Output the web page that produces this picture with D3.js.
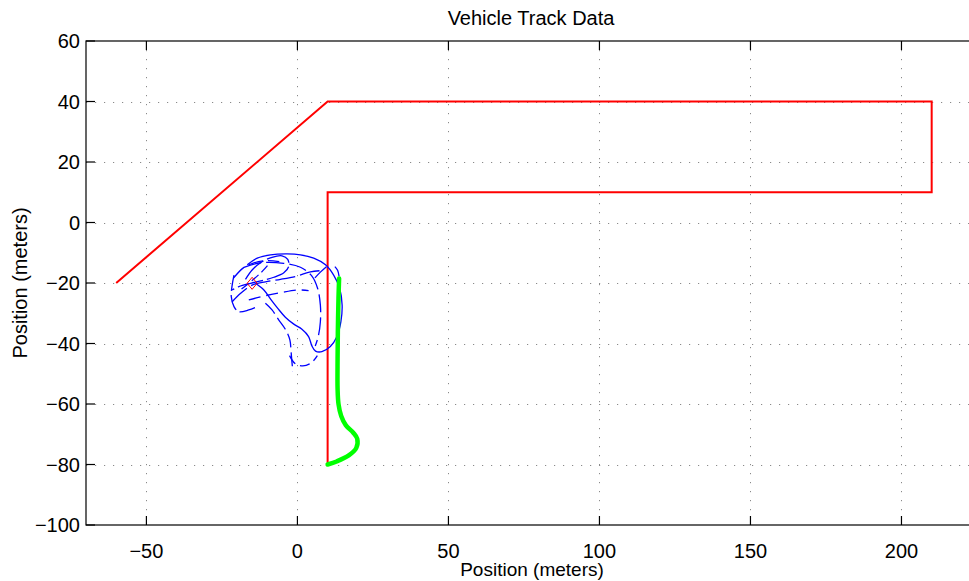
<!DOCTYPE html>
<html>
<head>
<meta charset="utf-8">
<script src="https://cdn.jsdelivr.net/npm/d3@7"></script>
<style>
  html, body { margin: 0; padding: 0; background: #fff; }
  svg { display: block; font-family: "Liberation Sans", Arial, Helvetica, sans-serif; }
</style>
</head>
<body>
<svg id="chart" width="969" height="581"></svg>
<script>
// Planned route (red), driven path (green), sensor tracks (blue), in metres.
const plannedRoute = [[-60, -20], [10, 40], [210, 40], [210, 10], [10, 10], [10, -80]];

const vehiclePath = [
  [13.8, -18.5], [13.6, -25], [13.4, -35], [13.3, -45], [13.3, -55], [13.6, -60],
  [14.5, -64], [16, -67], [18.5, -69.5], [19.8, -71.5], [19.5, -74.5], [17, -77],
  [13, -79], [10, -80]
];

const trackOuter = [
  [-16.6, -14.0], [-13.3, -11.8], [-8.9, -10.7], [-3.4, -10.4], [1.0, -10.7],
  [5.4, -11.8], [9.3, -14.0], [12.0, -17.4], [14.0, -21.8], [14.8, -27.3],
  [14.4, -32.8], [13.1, -37.7], [10.9, -41.0], [8.1, -42.7], [6.0, -42.5],
  [4.8, -40.8], [3.7, -37.7], [1.5, -35.3], [-1.2, -33.6], [-4.0, -31.3],
  [-6.5, -28.4], [-8.7, -25.6], [-11.1, -22.3], [-13.9, -20.1]
];

const trackInner = [
  [-17.7, -14.8], [-12.2, -13.3], [-4.5, -13.5], [1.0, -14.8], [4.8, -17.7],
  [6.7, -21.8], [7.6, -27.3], [7.6, -32.8], [6.9, -37.7], [5.9, -40.8]
];

const trackLoop = [
  [-17.2, -18.8], [-15.0, -15.7], [-12.2, -13.3], [-8.4, -11.5], [-5.1, -11.0],
  [-3.2, -12.2], [-2.9, -14.6], [-4.5, -16.6], [-7.8, -18.1], [-11.7, -19.2],
  [-15.5, -20.1], [-19.4, -21.2], [-21.6, -22.3]
];

const trackCross = [
  [-21.6, -26.2], [-18.8, -23.4], [-15.0, -20.7], [-10.6, -19.6], [-5.6, -18.8],
  [-0.1, -17.7], [4.3, -16.3], [8.1, -15.9]
];

const trackMiddle = [
  [-16.1, -25.6], [-11.1, -24.3], [-5.6, -23.2], [-0.1, -22.3], [3.7, -22.5]
];

const trackLeft = [
  [-21.0, -17.4], [-21.6, -20.7], [-21.9, -24.5], [-21.0, -27.8], [-19.4, -29.5],
  [-16.1, -28.9], [-13.3, -27.8]
];

const trackLower = [
  [-10.6, -26.7], [-8.4, -28.9], [-6.2, -32.2], [-4.0, -35.3], [-2.5, -38.8],
  [-2.1, -42.7], [-1.8, -46.3], [-1.5, -49.3]
];

const trackBottom = [
  [-2.6, -44.0], [-0.8, -46.6], [1.8, -47.4], [4.6, -46.4], [6.6, -44.0]
];

const trackUpperLeft = [
  [-21.1, -18.3], [-17.9, -15.0], [-14.6, -13.4], [-10.0, -12.6], [-6.0, -12.9]
];

const trackDiag = [
  [-18.5, -22.0], [-14.8, -19.0], [-11.5, -16.0], [-9.0, -13.2]
];

const trackShortA = [[5.8, -18.3], [7.6, -16.4], [9.6, -14.6]];
const trackShortB = [[12.4, -14.6], [13.3, -15.8], [13.8, -17.8]];

const blueTracks = [
  { pts: trackOuter, dash: null },
  { pts: trackInner, dash: "18,5" },
  { pts: trackLoop, dash: "26,4" },
  { pts: trackCross, dash: "20,5" },
  { pts: trackMiddle, dash: "12,6" },
  { pts: trackLeft, dash: "16,4" },
  { pts: trackLower, dash: "14,5" },
  { pts: trackBottom, dash: "10,5" },
  { pts: trackUpperLeft, dash: "15,5" },
  { pts: trackDiag, dash: "9,4" },
  { pts: trackShortA, dash: null },
  { pts: trackShortB, dash: null }
];

const targetPoint = [-15, -20.1];

const xTicks = [-50, 0, 50, 100, 150, 200];
const yTicks = [-100, -80, -60, -40, -20, 0, 20, 40, 60];

const chartTitle = "Vehicle Track Data";
const xLabel = "Position (meters)";
const yLabel = "Position (meters)";

// Layout
const mLeft = 86, mTop = 41, mBottom = 525, mRight = 980;
const svg = d3.select("#chart");

const x = d3.scaleLinear().domain([-70, 226]).range([mLeft, mRight]);
const y = d3.scaleLinear().domain([-100, 60]).range([mBottom, mTop]);
const fmt = d3.format("");

// Grid lines
const grid = svg.append("g").attr("stroke", "#8a8a8a").attr("stroke-width", 1)
  .attr("stroke-dasharray", "1.2,7.8");
grid.selectAll("line.vx").data(xTicks).join("line")
  .attr("x1", d => Math.round(x(d)) + 0.5).attr("x2", d => Math.round(x(d)) + 0.5)
  .attr("y1", mTop).attr("y2", mBottom);
grid.selectAll("line.hy").data(yTicks.filter(d => d > -100 && d < 60)).join("line")
  .attr("x1", mLeft).attr("x2", mRight)
  .attr("y1", d => Math.round(y(d)) + 0.5).attr("y2", d => Math.round(y(d)) + 0.5);

// Data
const plot = svg.append("g");
const line = d3.line().x(d => x(d[0])).y(d => y(d[1]));
const smooth = d3.line().x(d => x(d[0])).y(d => y(d[1])).curve(d3.curveCatmullRom.alpha(0.5));

plot.append("path").datum(plannedRoute).attr("d", line)
  .attr("fill", "none").attr("stroke", "#ff0000").attr("stroke-width", 2)
  .attr("stroke-linejoin", "miter");

plot.selectAll("path.track").data(blueTracks).join("path")
  .attr("class", "track")
  .attr("d", d => smooth(d.pts))
  .attr("fill", "none").attr("stroke", "#0000ff").attr("stroke-width", 1.3)
  .attr("stroke-dasharray", d => d.dash);

plot.append("path").datum(vehiclePath).attr("d", smooth)
  .attr("fill", "none").attr("stroke", "#00ff00").attr("stroke-width", 4.5)
  .attr("stroke-linecap", "round").attr("stroke-linejoin", "round");

// Target marker (diamond)
const cx = x(targetPoint[0]), cy = y(targetPoint[1]);
plot.append("path")
  .attr("d", `M${cx},${cy - 6}L${cx + 5},${cy}L${cx},${cy + 6}L${cx - 5},${cy}Z`)
  .attr("fill", "none").attr("stroke", "#ff0000").attr("stroke-width", 1);

// Axes box and inward ticks
const axes = svg.append("g").attr("stroke", "#000").attr("stroke-width", 1.2);
axes.append("rect").attr("x", mLeft).attr("y", mTop)
  .attr("width", mRight - mLeft).attr("height", mBottom - mTop).attr("fill", "none");
const tl = 9;
axes.selectAll("line.xb").data(xTicks).join("line")
  .attr("x1", d => x(d)).attr("x2", d => x(d)).attr("y1", mBottom).attr("y2", mBottom - tl);
axes.selectAll("line.xt").data(xTicks).join("line")
  .attr("x1", d => x(d)).attr("x2", d => x(d)).attr("y1", mTop).attr("y2", mTop + tl);
axes.selectAll("line.yl").data(yTicks).join("line")
  .attr("x1", mLeft).attr("x2", mLeft + tl).attr("y1", d => y(d)).attr("y2", d => y(d));
axes.selectAll("line.yr").data(yTicks).join("line")
  .attr("x1", mRight).attr("x2", mRight - tl).attr("y1", d => y(d)).attr("y2", d => y(d));

// Tick labels
const labels = svg.append("g").attr("fill", "#000").attr("font-size", 20);
labels.selectAll("text.xt").data(xTicks).join("text")
  .attr("x", d => x(d)).attr("y", 558).attr("text-anchor", "middle")
  .text(d => fmt(d));
labels.selectAll("text.yt").data(yTicks).join("text")
  .attr("x", 80).attr("y", d => y(d) + 7).attr("text-anchor", "end")
  .text(d => fmt(d));

// Titles
svg.append("text").attr("x", 531).attr("y", 25).attr("text-anchor", "middle")
  .attr("font-size", 20).text(chartTitle);
svg.append("text").attr("x", 532).attr("y", 576).attr("text-anchor", "middle")
  .attr("font-size", 19).text(xLabel);
svg.append("text").attr("transform", "translate(27,283) rotate(-90)")
  .attr("text-anchor", "middle").attr("font-size", 20).text(yLabel);
</script>
</body>
</html>
